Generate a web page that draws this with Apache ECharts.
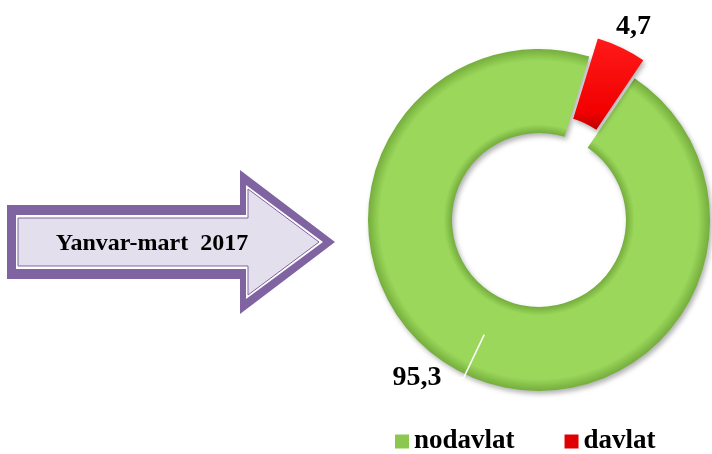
<!DOCTYPE html>
<html>
<head>
<meta charset="utf-8">
<script src="https://cdn.jsdelivr.net/npm/echarts@6/dist/echarts.min.js"></script>
<style>html,body{margin:0;padding:0;background:#fff}#c{width:712px;height:454px}</style>
</head>
<body>
<div id="c"></div>
<script>
const categories = ['nodavlat', 'davlat'];
const values = [95.3, 4.7];
const periodLabel = 'Yanvar-mart  2017';

const CX = 539, CY = 220, R0 = 87, R1 = 171;
const serif = "'Liberation Serif','Times New Roman',serif";

function ringGradient(mid, edge) {
  const a = R0 / R1;
  return {
    type: 'radial', x: CX, y: CY, r: R1, global: true,
    colorStops: [
      { offset: 0, color: edge },
      { offset: a, color: edge },
      { offset: a + 0.05, color: mid },
      { offset: 0.93, color: mid },
      { offset: 1, color: edge }
    ]
  };
}

const greenFill = ringGradient('#9bd75b', '#74ad3c');
const redFill = {
  type: 'linear', x: 0, y: 0, x2: 0, y2: 1,
  colorStops: [{ offset: 0, color: '#ff1a1a' }, { offset: 0.8, color: '#f20000' }, { offset: 1, color: '#c00000' }]
};
const fills = [greenFill, redFill];
const legendColors = ['#8cc850', '#e00000'];
const fmt = p => String(p.value).replace('.', ',');
const labelFont = { fontFamily: serif, fontWeight: 'bold', fontSize: 28, color: '#000' };

const chart = echarts.init(document.getElementById('c'));
chart.setOption({
  animation: false,
  legend: {
    left: 395, top: 428, padding: 0,
    itemWidth: 14, itemHeight: 14, itemGap: 50, icon: 'rect',
    selectedMode: false,
    data: categories.map((n, i) => ({ name: n, itemStyle: { color: legendColors[i] } })),
    textStyle: { fontFamily: serif, fontWeight: 'bold', fontSize: 27, color: '#000' }
  },
  graphic: [
    { type: 'polygon', shape: { points: [[7,205],[240,205],[240,170],[335,242],[240,314],[240,279],[7,279]] }, style: { fill: '#8064a2' } },
    { type: 'polygon', shape: { points: [[16,215],[246,215],[246,185],[323,242],[246,299],[246,269],[16,269]] }, style: { fill: '#ffffff' } },
    { type: 'polygon', shape: { points: [[18,218],[248,218],[248,189],[319,242],[248,295],[248,266],[18,266]] }, style: { fill: '#e4dfec', stroke: '#8064a2', lineWidth: 1 } },
    { type: 'text', x: 152, y: 244, style: { text: periodLabel, fill: '#000', font: "bold 24px 'Liberation Serif', serif", align: 'center', verticalAlign: 'middle' } }
  ],
  series: [{
    type: 'pie',
    center: [CX, CY],
    radius: [R0, R1],
    startAngle: 56,
    clockwise: true,
    selectedMode: 'single',
    selectedOffset: 20,
    itemStyle: { shadowBlur: 5, shadowColor: 'rgba(0,0,0,0.3)', shadowOffsetX: 2, shadowOffsetY: 3 },
    label: Object.assign({ show: true, position: 'outside', formatter: fmt }, labelFont),
    emphasis: { disabled: true },
    data: categories.map((n, i) => ({
      name: n,
      value: values[i],
      selected: i === 1,
      itemStyle: { color: fills[i] },
      label: { show: i === 1 },
      labelLine: { show: false, length: 6, length2: 0 }
    })),
    labelLayout: function (p) {
      return p.dataIndex === 1 ? { dx: -13, dy: -15 } : {};
    }
  }, {
    type: 'pie',
    center: [CX, CY],
    radius: [0, 127],
    startAngle: 56,
    clockwise: true,
    silent: true,
    z: 5,
    itemStyle: { color: 'rgba(0,0,0,0)' },
    label: Object.assign({ show: true, position: 'outside', formatter: fmt, distanceToLabelLine: 8 }, labelFont),
    labelLine: { show: true, length: 48, length2: 14, lineStyle: { color: '#ffffff', width: 1.5 } },
    emphasis: { disabled: true },
    tooltip: { show: false },
    legendHoverLink: false,
    data: categories.map((n, i) => ({
      name: n + ' ',
      value: values[i],
      label: { show: i === 0 },
      labelLine: { show: i === 0 }
    }))
  }]
});
</script>
</body>
</html>
